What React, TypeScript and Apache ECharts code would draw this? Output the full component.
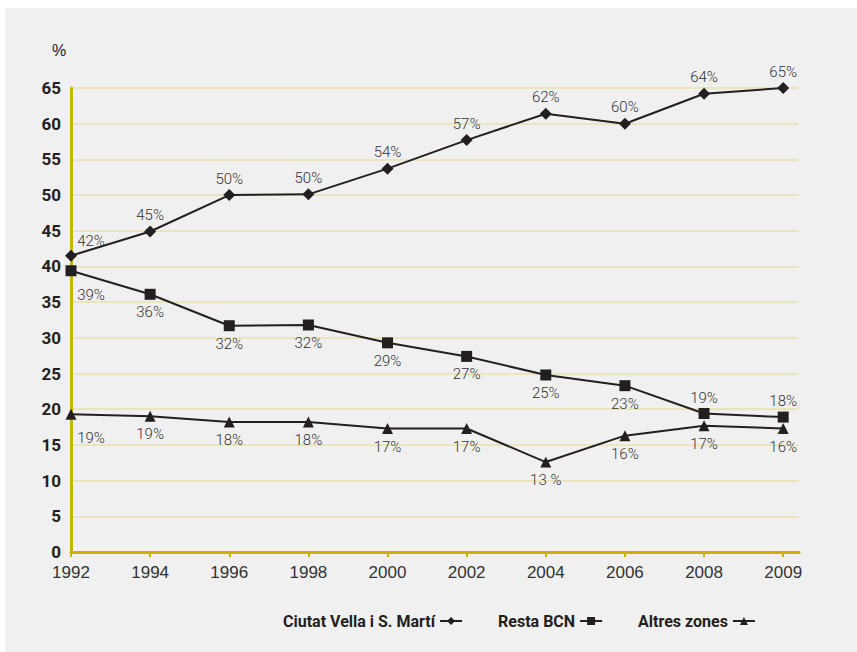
import React, { useEffect, useRef } from "react";
import * as echarts from "echarts";

const years = ["1992", "1994", "1996", "1998", "2000", "2002", "2004", "2006", "2008", "2009"];
const ciutatVella = [41.5, 44.9, 50.0, 50.1, 53.7, 57.7, 61.4, 60.0, 64.2, 65.0];
const restaBCN = [39.4, 36.1, 31.7, 31.8, 29.3, 27.4, 24.8, 23.3, 19.4, 18.9];
const altresZones = [19.3, 19.0, 18.2, 18.2, 17.3, 17.3, 12.6, 16.3, 17.7, 17.3];
const ciutatLabels = ["42%", "45%", "50%", "50%", "54%", "57%", "62%", "60%", "64%", "65%"];
const restaLabels = ["39%", "36%", "32%", "32%", "29%", "27%", "25%", "23%", "19%", "18%"];
const altresLabels = ["19%", "19%", "18%", "18%", "17%", "17%", "13 %", "16%", "17%", "16%"];
const yTicks = [0, 5, 10, 15, 20, 25, 30, 35, 40, 45, 50, 55, 60, 65];

const NARROW = 'Roboto, "Liberation Sans", sans-serif';
const INK = "#231f20";

export default function App() {
  const ref = useRef<HTMLDivElement>(null);
  useEffect(() => {
    if (!ref.current) return;
    const chart = echarts.init(ref.current, null, { renderer: "svg" });

    const labelStyle = { color: "#333", fontFamily: NARROW, fontSize: 15, fontWeight: 300 };

    const build = (vals: number[], labels: string[], kind: "ciutat" | "resta" | "altres") =>
      vals.map((v, i) => {
        let position: any = "bottom";
        let offset: number[] = [0, 0];
        let distance = 5;
        if (kind === "ciutat") {
          position = "top";
          distance = 3;
          if (i === 0) offset = [20, 2];
        } else if (kind === "resta") {
          if (i >= 8) {
            position = "top";
            distance = 3;
          }
          if (i === 0) offset = [20, 6];
        } else {
          if (i === 0) offset = [20, 6];
        }
        return {
          value: [i, v],
          label: { show: true, position, offset, distance, formatter: labels[i], ...labelStyle },
        };
      });

    const lineCommon = {
      type: "line" as const,
      lineStyle: { color: INK, width: 2 },
      itemStyle: { color: INK },
      emphasis: { disabled: true },
    };

    chart.setOption({
      animation: false,
      backgroundColor: "#ffffff",
      graphic: [
        { type: "rect", z: -10, shape: { x: 5, y: 8, width: 852, height: 644 }, style: { fill: "#f0f0f0" } },
        {
          type: "text",
          left: 52,
          top: 42,
          style: { text: "%", fontFamily: '"Liberation Sans", sans-serif', fontSize: 16, fill: INK },
        },
      ],
      grid: { left: 71, right: 58, top: 88, bottom: 100, containLabel: false },
      xAxis: {
        type: "value",
        min: 0,
        max: 9.2,
        interval: 1,
        axisLine: { show: true, lineStyle: { color: "#c8b400", width: 3 } },
        axisTick: {
          show: true,
          length: 5,
          inside: false,
          lineStyle: { color: "#c8b400", width: 2 },
          customValues: years.map((_, i) => i),
        },
        axisLabel: {
          customValues: years.map((_, i) => i),
          formatter: (v: number) => years[Math.round(v)] ?? "",
          color: "#333",
          fontFamily: '"Liberation Sans", sans-serif',
          fontSize: 17,
          margin: 12,
        },
        splitLine: { show: false },
      },
      yAxis: {
        type: "value",
        min: 0,
        max: 65,
        interval: 5,
        axisLine: { show: true, lineStyle: { color: "#c8b400", width: 3 } },
        axisTick: { show: false },
        axisLabel: {
          color: INK,
          fontFamily: NARROW,
          fontWeight: "bold",
          fontSize: 17,
          margin: 10,
          formatter: (v: number) => (yTicks.includes(v) ? String(v) : ""),
        },
        splitLine: { show: true, lineStyle: { color: "#e9e2ae", width: 1.5 } },
      },
      legend: {
        left: 283,
        top: 613,
        padding: 0,
        align: "right",
        itemGap: 35,
        itemWidth: 22,
        itemHeight: 10,
        textStyle: { color: INK, fontFamily: NARROW, fontWeight: "bold", fontSize: 16 },
        data: ["Ciutat Vella i S. Martí", "Resta BCN", "Altres zones"],
      },
      series: [
        {
          ...lineCommon,
          name: "Ciutat Vella i S. Martí",
          symbol: "diamond",
          symbolSize: 12,
          data: build(ciutatVella, ciutatLabels, "ciutat"),
        },
        {
          ...lineCommon,
          name: "Resta BCN",
          symbol: "rect",
          symbolSize: 11,
          data: build(restaBCN, restaLabels, "resta"),
        },
        {
          ...lineCommon,
          name: "Altres zones",
          symbol: "triangle",
          symbolSize: 11,
          data: build(altresZones, altresLabels, "altres"),
        },
      ],
    });
    return () => chart.dispose();
  }, []);
  return (
    <div
      ref={ref}
      style={{ position: "absolute", left: 0, top: 0, width: 857, height: 652 }}
    />
  );
}
